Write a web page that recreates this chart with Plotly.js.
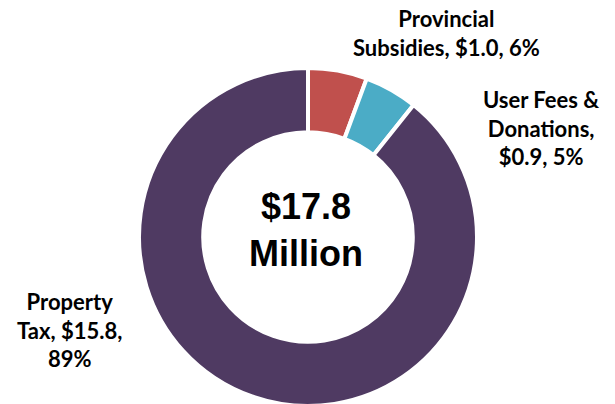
<!DOCTYPE html>
<html>
<head>
<meta charset="utf-8">
<script src="https://cdn.plot.ly/plotly-3.0.1.min.js"></script>
<style>
  html, body { margin: 0; padding: 0; background: #fff; overflow: hidden; }
  #chart { width: 615px; height: 406px; }
</style>
</head>
<body>
<div id="chart"></div>
<script>
// ---- data ----
const categories = ["Provincial Subsidies", "User Fees & Donations", "Property Tax"];
const labelHeads = ["Provincial<br>Subsidies", "User Fees &<br>Donations", "Property<br>Tax"];
const values = [1.0, 0.9, 15.8];          // $ millions
const percents = [6, 5, 89];              // % as shown
const totalText = ["$17.8", "Million"];
const colors = ["#C0504D", "#4BACC6", "#4F3A62"];

// ---- label layout (style) ----
const sep1 = [", ", ",<br>", ", "];
const sep2 = [", ", ", ", ",<br>"];
const labelPos = [
  {x: 446, y: 33},
  {x: 541, y: 128},
  {x: 69, y: 330}
];
const W = 615, H = 406;

const labelTexts = categories.map((c, i) =>
  "<b>" + labelHeads[i] + sep1[i] + "$" + values[i].toFixed(1) + sep2[i] + percents[i] + "%</b>");

const trace = {
  type: "pie",
  labels: categories,
  values: values,
  sort: false,
  direction: "clockwise",
  rotation: 0,
  hole: 0.62,
  textinfo: "none",
  hoverinfo: "label+value+percent",
  marker: { colors: colors, line: { color: "#ffffff", width: 4 } },
  domain: { x: [139 / W, 477 / W], y: [0, 338 / H] },
  showlegend: false
};

const annotations = labelTexts.map((t, i) => ({
  text: t,
  x: labelPos[i].x / W,
  y: 1 - labelPos[i].y / H,
  xref: "paper", yref: "paper",
  xanchor: "center", yanchor: "middle",
  showarrow: false,
  align: "center",
  font: { family: "Lato, 'Open Sans', sans-serif", size: 22, color: "#000" }
}));

annotations.push({
  text: "<b>" + totalText.join("<br>") + "</b>",
  x: 306 / W, y: 1 - 230 / H,
  xref: "paper", yref: "paper",
  xanchor: "center", yanchor: "middle",
  showarrow: false, align: "center",
  font: { family: "'Liberation Sans', Arial, sans-serif", size: 36, color: "#000" }
});

const layout = {
  width: W, height: H,
  margin: { l: 0, r: 0, t: 0, b: 0, pad: 0 },
  paper_bgcolor: "#ffffff",
  plot_bgcolor: "#ffffff",
  annotations: annotations
};

Plotly.newPlot("chart", [trace], layout, { displayModeBar: false, staticPlot: true });
</script>
</body>
</html>
